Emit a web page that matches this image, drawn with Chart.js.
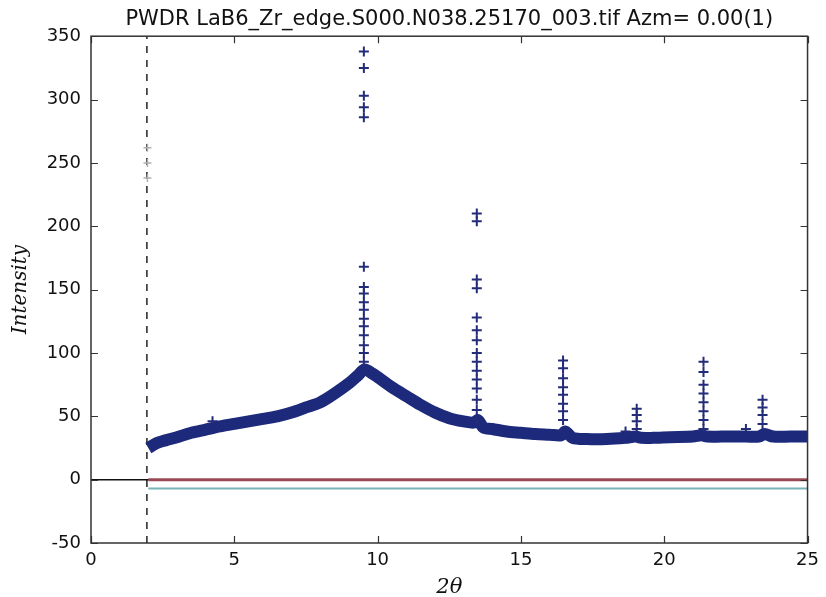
<!DOCTYPE html>
<html>
<head>
<meta charset="utf-8">
<script src="https://cdn.jsdelivr.net/npm/chart.js@4/dist/chart.umd.min.js"></script>
<style>
  body { margin: 0; background: #fff; }
  #wrap { width: 826px; height: 597px; }
</style>
</head>
<body>
<div id="wrap"><canvas id="grafico"></canvas></div>
<script>
// fundo (banda grossa de pontos)
var fundoX = [2.0, 2.3, 2.6, 3.0, 3.5, 4.0, 4.5, 5.0, 5.5, 6.0, 6.5, 7.0, 7.5, 8.0, 8.5, 9.0, 9.3, 9.55, 9.8, 10.0,
    10.5, 11.0, 11.5, 12.0, 12.5, 13.0, 13.35, 13.5, 13.7, 14.0, 14.5, 15.0, 15.5, 16.0, 16.4, 16.55, 16.8, 17.3, 18.0,
    18.65, 19.0, 19.2, 19.6, 20.2, 21.0, 21.3, 21.5, 22.0, 22.5, 22.85, 23.3, 23.5, 23.8, 24.4, 25.0];
var fundoY = [25, 29, 31, 33.5, 37, 39.5, 42, 44, 46, 48, 50, 53, 57, 61, 68, 76, 82, 87, 84, 81,
    73, 66, 59, 53, 48.5, 46, 45, 47, 41, 40, 38, 37, 36, 35.5, 35, 38, 33, 32, 32,
    33, 34, 33, 33, 33.5, 34, 35, 34, 34, 34, 34, 34, 36, 34, 34, 34];

// cruzes dos picos
var picosX = [9.52, 9.52, 9.52, 9.52, 9.52, 9.52, 9.52, 9.52, 9.52, 9.52, 9.52, 9.52, 9.52, 9.52, 9.52, 9.52,
    13.46, 13.46, 13.46, 13.46, 13.46, 13.46, 13.46, 13.46, 13.46, 13.46, 13.46, 13.46, 13.46, 13.46, 13.46,
    16.47, 16.47, 16.47, 16.47, 16.47, 16.47, 16.47, 16.47,
    19.04, 19.04, 19.04, 19.04,
    21.37, 21.37, 21.37, 21.37, 21.37, 21.37, 21.37, 21.37,
    23.43, 23.43, 23.43, 23.43,
    4.24, 18.65, 22.85];
var picosY = [338, 325, 303, 294, 286, 168, 152, 147, 140, 134, 127, 121, 114, 106, 100, 93,
    210, 204, 158, 151, 128, 118, 110, 100, 93, 86, 79, 72, 63, 55, 48,
    94, 88, 80, 73, 67, 60, 54, 47,
    56, 51, 46, 40,
    93, 85, 75, 68, 61, 54, 47, 40,
    63, 57, 51, 44,
    46, 38, 40];

// marcas fracas perto de 2
var fracoX = [1.97, 1.97, 1.97];
var fracoY = [262, 250, 238];

var linhaCalcX = [2, 25];
var linhaCalcY = [0, 0];
var linhaDifX = [2, 25];
var linhaDifY = [-7, -7];
var linhaZeroX = [0, 25];
var linhaTracoX = 1.95;

var ticksX = [0, 5, 10, 15, 20, 25];
var ticksY = [-50, 0, 50, 100, 150, 200, 250, 300, 350];

function pares(xs, ys) {
    var out = [];
    for (let i = 0; i < xs.length; i++) {
        out.push({ x: xs[i], y: ys[i] });
    }
    return out;
}

// moldura com ticks para dentro nos quatro lados
var moldura = {
    id: 'moldura',
    afterDraw: function (chart) {
        var ctx = chart.ctx;
        var a = chart.chartArea;
        var sx = chart.scales.x;
        var sy = chart.scales.y;
        ctx.save();
        ctx.strokeStyle = '#333';
        ctx.lineWidth = 1.5;
        ctx.strokeRect(a.left, a.top, a.right - a.left, a.bottom - a.top);
        ctx.lineWidth = 1.2;
        ctx.beginPath();
        ticksX.forEach(function (v) {
            var p = Math.round(sx.getPixelForValue(v)) + 0.5;
            ctx.moveTo(p, a.bottom); ctx.lineTo(p, a.bottom - 7);
            ctx.moveTo(p, a.top); ctx.lineTo(p, a.top + 7);
        });
        ticksY.forEach(function (v) {
            var p = Math.round(sy.getPixelForValue(v)) + 0.5;
            ctx.moveTo(a.left, p); ctx.lineTo(a.left + 7, p);
            ctx.moveTo(a.right, p); ctx.lineTo(a.right - 7, p);
        });
        ctx.stroke();
        ctx.restore();
    }
};

var ctx = document.getElementById('grafico').getContext('2d');
var grafico = new Chart(ctx, {
    type: 'scatter',
    data: {
        datasets: [{
            label: 'picos',
            data: pares(picosX, picosY),
            pointStyle: 'cross',
            pointRadius: 5,
            borderWidth: 2,
            borderColor: '#232c78',
            showLine: false,
            order: 1
        }, {
            label: 'fundo',
            data: pares(fundoX, fundoY),
            showLine: true,
            borderColor: '#1d2a7c',
            borderWidth: 12,
            borderCapStyle: 'butt',
            borderJoinStyle: 'round',
            pointRadius: 0,
            tension: 0.3,
            order: 2
        }, {
            label: 'fraco',
            data: pares(fracoX, fracoY),
            pointStyle: 'cross',
            pointRadius: 4,
            borderWidth: 1.5,
            borderColor: '#b0b0b0',
            showLine: false,
            order: 3
        }, {
            label: 'calc',
            data: pares(linhaCalcX, linhaCalcY),
            showLine: true,
            borderColor: '#9a4a55',
            borderWidth: 3,
            pointRadius: 0,
            order: 4
        }, {
            label: 'dif',
            data: pares(linhaDifX, linhaDifY),
            showLine: true,
            borderColor: '#78b4b8',
            borderWidth: 2,
            pointRadius: 0,
            order: 5
        }, {
            label: 'zero',
            data: pares(linhaZeroX, [0, 0]),
            showLine: true,
            borderColor: '#111',
            borderWidth: 1.5,
            pointRadius: 0,
            order: 6
        }, {
            label: 'traco',
            data: [{ x: linhaTracoX, y: -50 }, { x: linhaTracoX, y: 350 }],
            showLine: true,
            borderColor: '#222',
            borderWidth: 1.5,
            borderDash: [7, 7],
            pointRadius: 0,
            order: 7
        }]
    },
    options: {
        responsive: true,
        maintainAspectRatio: false,
        animation: false,
        layout: { padding: { left: 0, right: 14, top: 0, bottom: 0 } },
        plugins: {
            legend: { display: false },
            tooltip: { enabled: false },
            title: {
                display: true,
                text: 'PWDR LaB6_Zr_edge.S000.N038.25170_003.tif Azm= 0.00(1)',
                color: '#111',
                font: { family: 'DejaVu Sans', size: 21, weight: 'normal' },
                padding: { top: 7, bottom: 4 },
                fullSize: false
            }
        },
        scales: {
            x: {
                type: 'linear',
                min: 0,
                max: 25,
                grid: { display: false, drawTicks: false },
                border: { display: false },
                afterFit: function (s) { s.height = 54; },
                afterBuildTicks: function (s) { s.ticks = ticksX.map(function (v) { return { value: v }; }); },
                ticks: {
                    padding: 7,
                    color: '#111',
                    font: { family: 'DejaVu Sans', size: 18 },
                    maxRotation: 0
                },
                title: {
                    display: true,
                    text: '2θ',
                    color: '#111',
                    font: { family: 'DejaVu Serif', size: 21, style: 'italic' },
                    padding: { top: 0, bottom: -3 }
                }
            },
            y: {
                type: 'linear',
                min: -50,
                max: 350,
                grid: { display: false, drawTicks: false },
                border: { display: false },
                afterFit: function (s) { s.width = 91; },
                afterBuildTicks: function (s) { s.ticks = ticksY.map(function (v) { return { value: v }; }); },
                ticks: {
                    padding: 10,
                    color: '#111',
                    font: { family: 'DejaVu Sans', size: 18 }
                },
                title: {
                    display: true,
                    text: 'Intensity',
                    color: '#111',
                    font: { family: 'DejaVu Serif', size: 20, style: 'italic' },
                    padding: { top: 9, bottom: 0 }
                }
            }
        }
    },
    plugins: [moldura]
});
</script>
</body>
</html>
